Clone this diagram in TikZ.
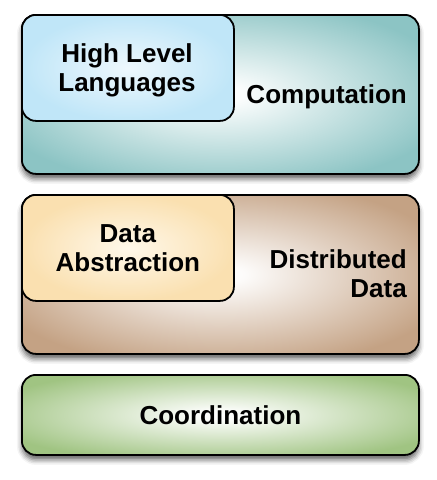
\documentclass[tikz,border=0pt]{standalone}
\usepackage{fontspec}
\setmainfont{Liberation Sans}
\usetikzlibrary{shadows.blur}
\definecolor{tealout}{RGB}{140,196,196}
\definecolor{blueout}{RGB}{192,230,248}
\definecolor{blueinn}{RGB}{238,248,253}
\definecolor{tanout}{RGB}{196,162,132}
\definecolor{yelout}{RGB}{250,224,176}
\definecolor{yelinn}{RGB}{255,248,234}
\definecolor{grnout}{RGB}{160,196,130}
\pgfdeclareradialshading{glowteal}{\pgfpoint{0bp}{0bp}}{%
  color(0bp)=(white); color(3bp)=(tealout!4!white);
  color(30bp)=(tealout); color(50bp)=(tealout)}
\pgfdeclareradialshading{glowtan}{\pgfpoint{0bp}{0bp}}{%
  color(0bp)=(white); color(3bp)=(tanout!4!white);
  color(30bp)=(tanout); color(50bp)=(tanout)}
\pgfdeclareradialshading{glowgrn}{\pgfpoint{0bp}{0bp}}{%
  color(0bp)=(white); color(3bp)=(grnout!4!white);
  color(30bp)=(grnout); color(50bp)=(grnout)}
\tikzset{
  basebox/.style={draw=black, line width=1.8pt, rounded corners=14pt, anchor=north west, inner sep=0pt},
  outerbox/.style={basebox, blur shadow={shadow xshift=0pt, shadow yshift=-5pt, shadow blur radius=5pt, shadow opacity=60}},
  innerbox/.style={basebox},
  lbl/.style={inner sep=0pt, align=center, font=\fontsize{26}{29}\selectfont\bfseries}
}
\begin{document}
\begin{tikzpicture}[x=1pt,y=-1pt]
\useasboundingbox (0,0) rectangle (437,480);
% Computation layer
\node[outerbox, shading=glowteal, minimum width=397pt, minimum height=159pt] (comp) at (21,14) {};
\node[innerbox, inner color=blueinn, outer color=blueout, minimum width=212pt, minimum height=106pt] (hll) at (21,14) {};
\node[lbl] (hlltxt) at (127,70) {High Level\\Languages};
\node[lbl, anchor=east] (comptxt) at (407,97) {Computation};
% Distributed data layer
\node[outerbox, shading=glowtan, minimum width=397pt, minimum height=159pt] (dist) at (21,194) {};
\node[innerbox, inner color=yelinn, outer color=yelout, minimum width=212pt, minimum height=106pt] (dabs) at (21,194) {};
\node[lbl] (dabstxt) at (dabs.center) {Data\\Abstraction};
\node[lbl, anchor=east, align=right] (disttxt) at (407,274) {Distributed\\Data};
% Coordination layer
\node[outerbox, shading=glowgrn, minimum width=397pt, minimum height=80pt] (coord) at (21,374) {};
\node[lbl] (coordtxt) at (coord.center) {Coordination};
\end{tikzpicture}
\end{document}
